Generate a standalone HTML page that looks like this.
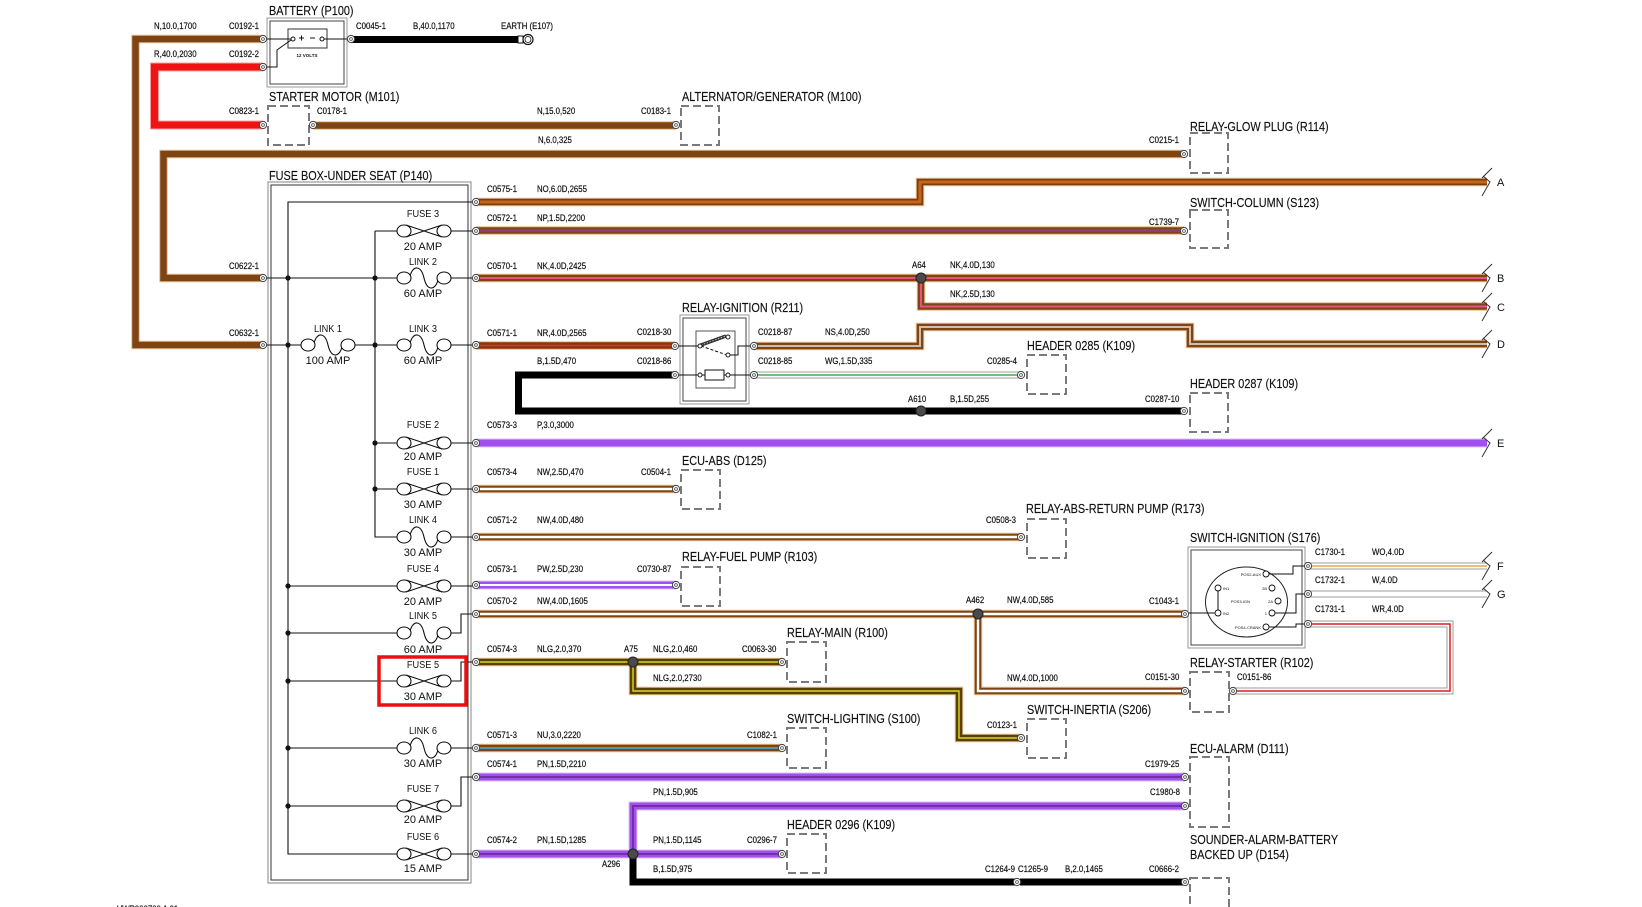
<!DOCTYPE html>
<html><head><meta charset="utf-8"><style>
html,body{margin:0;padding:0;background:#fff;width:1642px;height:907px;overflow:hidden}
svg{display:block}
text{font-family:"Liberation Sans",Arial,sans-serif;fill:#111}
.s{font-size:9px;stroke:#111;stroke-width:.2}
.l{font-size:12.5px;stroke:#111;stroke-width:.15}
.f{font-size:10px}
.a{font-size:11px}
.t{font-size:4px}
.m{text-anchor:middle}
.e{text-anchor:end}
</style></head><body>
<svg width="1642" height="907" viewBox="0 0 1642 907" xmlns="http://www.w3.org/2000/svg">
<defs>
<path id="n10" d="M263,39H135.5V345H263"/>
<path id="r40" d="M263,67H154.5V125H263"/>
<path id="b40" d="M351,39.5H518"/>
<path id="n15" d="M313,125.5H676"/>
<path id="n6" d="M1184,154H163.5V278H263"/>
<path id="no" d="M476,202H920V182H1487"/>
<path id="np" d="M476,230.5H1184"/>
<path id="nk" d="M476,278H1487"/>
<path id="nk2" d="M921,278V306.5H1487"/>
<path id="nr" d="M476,345.5H675"/>
<path id="ns" d="M754,346H920V327H1190V344H1487"/>
<path id="b470" d="M675,375H518.5V411H1184"/>
<path id="wg" d="M754,375H1021"/>
<path id="p" d="M476,443H1487"/>
<path id="nw470" d="M476,489H676"/>
<path id="nw480" d="M476,537H1021"/>
<path id="pw" d="M476,585H676"/>
<path id="nw1605" d="M476,614H1185"/>
<path id="nw1000" d="M978,614V691H1185"/>
<path id="nlg" d="M476,662H782"/>
<path id="nlg2" d="M633,662V691H959V738H1021"/>
<path id="nu" d="M476,748H782"/>
<path id="pn1" d="M476,777H1185"/>
<path id="pn2" d="M633,854V806H1185"/>
<path id="pn3" d="M476,854H782"/>
<path id="b975" d="M633,854V882H1015M1020,882H1185"/>
<path id="wo" d="M1308,566H1487"/>
<path id="ww" d="M1308,594H1487"/>
<path id="wr" d="M1308,624H1450V691H1233"/>
<g id="fz"><path d="M2,-6L38,6M2,6L38,-6" stroke="#111" stroke-width="1.1" fill="none"/><ellipse cx="0" cy="0" rx="7" ry="6" fill="#fff" stroke="#111" stroke-width="1.1"/><ellipse cx="40" cy="0" rx="7" ry="6" fill="#fff" stroke="#111" stroke-width="1.1"/></g>
<g id="lk"><path d="M6,-2C9,-13 17,-13 20,0C23,13 31,13 34,2" stroke="#111" stroke-width="1.1" fill="none"/><ellipse cx="0" cy="0" rx="7" ry="6" fill="#fff" stroke="#111" stroke-width="1.1"/><ellipse cx="40" cy="0" rx="7" ry="6" fill="#fff" stroke="#111" stroke-width="1.1"/></g>
<g id="cn"><circle r="3.6" fill="#fff" stroke="#444" stroke-width="1"/><circle r="1.4" fill="none" stroke="#444" stroke-width=".8"/></g>
<g id="jd"><circle r="5" fill="#4a4a4a" stroke="#222" stroke-width="1"/></g>
</defs>

<!-- WIRES -->
<g fill="none" stroke-linejoin="miter" stroke-linecap="butt">
<g stroke="#e6bd8c" stroke-width="8.5">
<use href="#n10"/><use href="#n6"/><use href="#n15"/><use href="#no"/><use href="#np"/><use href="#nk"/><use href="#nk2"/><use href="#nr"/><use href="#ns"/><use href="#nw470"/><use href="#nw480"/><use href="#nw1605"/><use href="#nw1000"/><use href="#nu"/><use href="#nlg"/><use href="#nlg2"/>
</g>
<g stroke="#7e4414" stroke-width="6.5">
<use href="#n10"/><use href="#n6"/><use href="#n15"/><use href="#np"/><use href="#nk"/><use href="#nk2"/><use href="#ns"/><use href="#nw470"/><use href="#nw480"/><use href="#nw1605"/><use href="#nw1000"/><use href="#nu"/>
</g>
<use href="#no" stroke="#7a3e10" stroke-width="6.5"/>
<use href="#nr" stroke="#8b3410" stroke-width="6.5"/>
<g stroke="#5a3f00" stroke-width="6.5"><use href="#nlg"/><use href="#nlg2"/></g>
<use href="#no" stroke="#c8641a" stroke-width="3"/>
<use href="#np" stroke="#8e3c86" stroke-width="2.5"/>
<g stroke="#e8508a" stroke-width="2"><use href="#nk"/><use href="#nk2"/></g>
<use href="#nr" stroke="#c5401e" stroke-width="1.6"/>
<use href="#ns" stroke="#cbbfb3" stroke-width="2"/>
<g stroke="#ffffff" stroke-width="2.4"><use href="#nw470"/><use href="#nw480"/><use href="#nw1605"/><use href="#nw1000"/></g>
<g stroke="#d4dc30" stroke-width="1.4"><use href="#nlg"/><use href="#nlg2"/></g>
<use href="#nu" stroke="#4a9ab4" stroke-width="2"/>
<!-- purple -->
<g stroke="#dcc0f7" stroke-width="9"><use href="#p"/><use href="#pw"/><use href="#pn1"/><use href="#pn2"/><use href="#pn3"/></g>
<g stroke="#a24ff0" stroke-width="7"><use href="#p"/><use href="#pw"/><use href="#pn1"/><use href="#pn2"/><use href="#pn3"/></g>
<use href="#pw" stroke="#fff" stroke-width="2"/>
<g stroke="#6e2d98" stroke-width="1.8"><use href="#pn1"/><use href="#pn2"/><use href="#pn3"/></g>
<!-- red / black -->
<use href="#r40" stroke="#ff9c9c" stroke-width="9"/>
<use href="#r40" stroke="#ee1414" stroke-width="7"/>
<g stroke="#000" stroke-width="7"><use href="#b40"/><use href="#b470"/><use href="#b975"/></g>
<!-- white -->
<g stroke="#9c9c9c" stroke-width="7"><use href="#wg"/><use href="#wo"/><use href="#ww"/><use href="#wr"/></g>
<g stroke="#fff" stroke-width="5"><use href="#wg"/><use href="#wo"/><use href="#ww"/><use href="#wr"/></g>
<use href="#wg" stroke="#3cb043" stroke-width="1.5"/>
<use href="#wo" stroke="#e4a554" stroke-width="1.6"/>
<use href="#wr" stroke="#d42020" stroke-width="1.5"/>
</g>

<!-- arrow ends -->
<g stroke="#333" stroke-width="1" fill="none">
<path d="M1482,178L1492,168M1483,176L1490,182L1482,196"/>
<path d="M1482,274L1492,264M1483,272L1490,278L1482,292"/>
<path d="M1482,303L1492,293M1483,301L1490,307L1482,321"/>
<path d="M1482,340L1492,330M1483,338L1490,344L1482,358"/>
<path d="M1482,439L1492,429M1483,437L1490,443L1482,457"/>
<path d="M1482,562L1492,552M1483,560L1490,566L1482,580"/>
<path d="M1482,590L1492,580M1483,588L1490,594L1482,608"/>
</g>
<g class="a">
<text x="1497" y="186">A</text><text x="1497" y="282">B</text><text x="1497" y="311">C</text><text x="1497" y="348">D</text><text x="1497" y="447">E</text><text x="1497" y="570">F</text><text x="1497" y="598">G</text>
</g>

<!-- BATTERY -->
<rect x="267" y="18" width="80" height="69" fill="none" stroke="#999" stroke-width="1"/>
<rect x="270" y="21" width="74" height="63" fill="none" stroke="#444" stroke-width="1"/>
<rect x="288" y="29" width="39" height="19" fill="#fff" stroke="#333" stroke-width="1"/>
<g stroke="#111" stroke-width="1" fill="none">
<path d="M263,39H291"/><path d="M263,67H277V50L291,40"/><path d="M324,39H351"/>
<path d="M299,38h5M301.5,35.5v5M310,38h5"/>
</g>
<circle cx="293" cy="39" r="2" fill="#fff" stroke="#111"/>
<circle cx="322" cy="39" r="2" fill="#fff" stroke="#111"/>
<text x="307" y="57" style="font-size:4.5px;font-weight:bold" class="m">12 VOLTS</text>
<!-- earth -->
<rect x="518" y="36" width="5" height="7" fill="#fff" stroke="#111"/>
<circle cx="528" cy="39.5" r="5" fill="#fff" stroke="#111" stroke-width="1.2"/>
<circle cx="528" cy="39.5" r="3" fill="none" stroke="#111" stroke-width=".8"/>

<!-- FUSE BOX -->
<rect x="268" y="182" width="203" height="701" fill="none" stroke="#999" stroke-width="1.2"/>
<rect x="271" y="185" width="197" height="695" fill="none" stroke="#333" stroke-width="1"/>
<g stroke="#111" stroke-width="1.1" fill="none">
<path d="M476,202H288V854H397"/>
<path d="M375,231V537H397"/>
<path d="M263,278H397"/><path d="M263,345H301"/><path d="M354,345H397"/>
<path d="M375,231H397"/><path d="M375,443H397"/><path d="M375,489H397"/>
<path d="M288,586H397"/><path d="M288,633H397"/><path d="M288,681H397"/><path d="M288,748H397"/><path d="M288,806H397"/>
<path d="M451,231H476M451,278H476M451,345H476M451,443H476M451,489H476M451,537H476M451,586H476M451,748H476M451,854H476"/>
<path d="M451,633H461V614H476M451,681H461V662H476M451,806H461V777H476"/>
</g>
<g fill="#111">
<circle cx="288" cy="278" r="2.6"/><circle cx="288" cy="345" r="2.6"/><circle cx="375" cy="278" r="2.6"/><circle cx="375" cy="345" r="2.6"/>
<circle cx="375" cy="443" r="2.6"/><circle cx="375" cy="489" r="2.6"/>
<circle cx="288" cy="586" r="2.6"/><circle cx="288" cy="633" r="2.6"/><circle cx="288" cy="681" r="2.6"/><circle cx="288" cy="748" r="2.6"/><circle cx="288" cy="806" r="2.6"/>
</g>
<use href="#fz" x="404" y="231"/>
<use href="#lk" x="404" y="278"/>
<use href="#lk" x="308" y="345"/>
<use href="#lk" x="404" y="345"/>
<use href="#fz" x="404" y="443"/>
<use href="#fz" x="404" y="489"/>
<use href="#lk" x="404" y="537"/>
<use href="#fz" x="404" y="586"/>
<use href="#lk" x="404" y="633"/>
<use href="#fz" x="404" y="681"/>
<use href="#lk" x="404" y="748"/>
<use href="#fz" x="404" y="806"/>
<use href="#fz" x="404" y="854"/>
<rect x="379" y="657" width="87" height="48" fill="none" stroke="#e81010" stroke-width="3.5"/>

<g class="m">
<text class="f" transform="translate(423 217) scale(.92 1)">FUSE 3</text><text class="a" x="423" y="250">20 AMP</text>
<text class="f" transform="translate(423 265) scale(.92 1)">LINK 2</text><text class="a" x="423" y="297">60 AMP</text>
<text class="f" transform="translate(328 332) scale(.92 1)">LINK 1</text><text class="a" x="328" y="364">100 AMP</text>
<text class="f" transform="translate(423 332) scale(.92 1)">LINK 3</text><text class="a" x="423" y="364">60 AMP</text>
<text class="f" transform="translate(423 428) scale(.92 1)">FUSE 2</text><text class="a" x="423" y="460">20 AMP</text>
<text class="f" transform="translate(423 475) scale(.92 1)">FUSE 1</text><text class="a" x="423" y="508">30 AMP</text>
<text class="f" transform="translate(423 523) scale(.92 1)">LINK 4</text><text class="a" x="423" y="556">30 AMP</text>
<text class="f" transform="translate(423 572) scale(.92 1)">FUSE 4</text><text class="a" x="423" y="605">20 AMP</text>
<text class="f" transform="translate(423 619) scale(.92 1)">LINK 5</text><text class="a" x="423" y="653">60 AMP</text>
<text class="f" transform="translate(423 668) scale(.92 1)">FUSE 5</text><text class="a" x="423" y="700">30 AMP</text>
<text class="f" transform="translate(423 734) scale(.92 1)">LINK 6</text><text class="a" x="423" y="767">30 AMP</text>
<text class="f" transform="translate(423 792) scale(.92 1)">FUSE 7</text><text class="a" x="423" y="823">20 AMP</text>
<text class="f" transform="translate(423 840) scale(.92 1)">FUSE 6</text><text class="a" x="423" y="872">15 AMP</text>
</g>

<!-- RELAY IGNITION -->
<rect x="680" y="315" width="69" height="89" fill="#fff" stroke="#999" stroke-width="1"/>
<rect x="683" y="318" width="63" height="83" fill="none" stroke="#444" stroke-width="1"/>
<rect x="696" y="331" width="39" height="57" fill="#fff" stroke="#555" stroke-width="1"/>
<g stroke="#111" stroke-width="1" fill="none">
<path d="M675,346H698M675,375H698M702,375H705M724,375H726M730,375H754M730,355H738V346H754"/>
<path d="M701,346L727,355" stroke-dasharray="3 2"/>
</g>
<path d="M701,345L726,336" stroke="#333" stroke-width="3.5"/>
<path d="M701,345L726,336" stroke="#bbb" stroke-width="1" stroke-dasharray="1.5 1.5"/>
<rect x="705" y="370" width="19" height="10" fill="#fff" stroke="#111"/>
<g fill="#fff" stroke="#111" stroke-width=".9">
<circle cx="700" cy="346" r="2"/><circle cx="728" cy="337" r="2"/><circle cx="728" cy="355" r="2"/><circle cx="700" cy="375" r="2"/><circle cx="728" cy="375" r="2"/>
</g>

<!-- SWITCH IGNITION -->
<rect x="1188" y="547" width="117" height="101" fill="#fff" stroke="#999" stroke-width="1"/>
<rect x="1191" y="550" width="111" height="95" fill="none" stroke="#444" stroke-width="1"/>
<ellipse cx="1246.5" cy="602" rx="41" ry="35" fill="none" stroke="#222" stroke-width="1"/>
<g stroke="#111" stroke-width="1" fill="none">
<path d="M1185,613H1216M1218,589V611"/>
<path d="M1269,574H1293V566H1308"/>
<path d="M1275,613H1296V594H1308"/>
<path d="M1269,627H1296V624H1308"/>
</g>
<g fill="#fff" stroke="#111" stroke-width=".9">
<circle cx="1266" cy="574" r="3"/><circle cx="1272" cy="588" r="3"/><circle cx="1278" cy="601" r="3"/><circle cx="1272" cy="613" r="3"/><circle cx="1266" cy="627" r="3"/>
<circle cx="1218" cy="588" r="3"/><circle cx="1218" cy="613" r="3"/>
</g>
<g class="t">
<text x="1261" y="576" class="e">POS2-AUX</text><text x="1267" y="590" class="e">2B</text><text x="1273" y="603" class="e">2A</text><text x="1250" y="603" class="e">POS3-IGN</text>
<text x="1267" y="615" class="e">1</text><text x="1261" y="629" class="e">POS4-CRANK</text><text x="1223" y="590">IN1</text><text x="1223" y="615">IN2</text>
</g>

<!-- DASHED COMPONENT BOXES -->
<g fill="none" stroke="#7a7a7a" stroke-width="2" stroke-dasharray="8 4">
<rect x="268" y="106" width="41" height="39"/>
<rect x="681" y="106" width="38" height="39"/>
<rect x="1190" y="133" width="38" height="40"/>
<rect x="1190" y="210" width="38" height="38"/>
<rect x="1027" y="355" width="39" height="39"/>
<rect x="1190" y="393" width="38" height="39"/>
<rect x="681" y="470" width="39" height="39"/>
<rect x="1027" y="519" width="39" height="39"/>
<rect x="681" y="567" width="39" height="39"/>
<rect x="787" y="642" width="39" height="40"/>
<rect x="1190" y="672" width="39" height="40"/>
<rect x="1027" y="719" width="39" height="39"/>
<rect x="787" y="728" width="39" height="40"/>
<rect x="1190" y="757" width="39" height="70"/>
<rect x="787" y="834" width="39" height="39"/>
<rect x="1190" y="878" width="39" height="40"/>
</g>

<!-- CONNECTORS -->
<g>
<use href="#cn" x="263" y="39"/><use href="#cn" x="263" y="67"/><use href="#cn" x="351" y="39"/><use href="#cn" x="263" y="125"/><use href="#cn" x="313" y="125"/><use href="#cn" x="676" y="125"/><use href="#cn" x="1184" y="154"/><use href="#cn" x="263" y="278"/><use href="#cn" x="263" y="345"/>
<use href="#cn" x="476" y="202"/><use href="#cn" x="476" y="231"/><use href="#cn" x="476" y="278"/><use href="#cn" x="476" y="345"/><use href="#cn" x="476" y="443"/><use href="#cn" x="476" y="489"/><use href="#cn" x="476" y="537"/><use href="#cn" x="476" y="585"/><use href="#cn" x="476" y="614"/><use href="#cn" x="476" y="662"/><use href="#cn" x="476" y="748"/><use href="#cn" x="476" y="777"/><use href="#cn" x="476" y="854"/>
<use href="#cn" x="675" y="346"/><use href="#cn" x="675" y="375"/><use href="#cn" x="754" y="346"/><use href="#cn" x="754" y="375"/><use href="#cn" x="1021" y="375"/><use href="#cn" x="1184" y="411"/><use href="#cn" x="1184" y="231"/>
<use href="#cn" x="676" y="489"/><use href="#cn" x="1021" y="537"/><use href="#cn" x="676" y="585"/><use href="#cn" x="1185" y="614"/><use href="#cn" x="1185" y="691"/><use href="#cn" x="1233" y="691"/><use href="#cn" x="782" y="662"/><use href="#cn" x="1021" y="738"/><use href="#cn" x="782" y="748"/><use href="#cn" x="1185" y="777"/><use href="#cn" x="1185" y="806"/><use href="#cn" x="782" y="854"/><use href="#cn" x="1017" y="882"/><use href="#cn" x="1185" y="882"/>
<use href="#cn" x="1308" y="566"/><use href="#cn" x="1308" y="594"/><use href="#cn" x="1308" y="624"/>
</g>
<!-- JUNCTIONS -->
<use href="#jd" x="921" y="278"/><use href="#jd" x="921" y="411"/><use href="#jd" x="978" y="614"/><use href="#jd" x="633" y="662"/><use href="#jd" x="633" y="854"/>

<!-- COMPONENT LABELS -->
<g class="l">
<text transform="translate(269 15) scale(.87 1)">BATTERY (P100)</text>
<text transform="translate(269 101) scale(.87 1)">STARTER MOTOR (M101)</text>
<text transform="translate(682 101) scale(.87 1)">ALTERNATOR/GENERATOR (M100)</text>
<text transform="translate(1190 131) scale(.87 1)">RELAY-GLOW PLUG (R114)</text>
<text transform="translate(269 180) scale(.87 1)">FUSE BOX-UNDER SEAT (P140)</text>
<text transform="translate(1190 207) scale(.87 1)">SWITCH-COLUMN (S123)</text>
<text transform="translate(682 312) scale(.87 1)">RELAY-IGNITION (R211)</text>
<text transform="translate(1027 350) scale(.87 1)">HEADER 0285 (K109)</text>
<text transform="translate(1190 388) scale(.87 1)">HEADER 0287 (K109)</text>
<text transform="translate(682 465) scale(.87 1)">ECU-ABS (D125)</text>
<text transform="translate(1026 513) scale(.87 1)">RELAY-ABS-RETURN PUMP (R173)</text>
<text transform="translate(682 561) scale(.87 1)">RELAY-FUEL PUMP (R103)</text>
<text transform="translate(1190 542) scale(.87 1)">SWITCH-IGNITION (S176)</text>
<text transform="translate(787 637) scale(.87 1)">RELAY-MAIN (R100)</text>
<text transform="translate(1190 667) scale(.87 1)">RELAY-STARTER (R102)</text>
<text transform="translate(1027 714) scale(.87 1)">SWITCH-INERTIA (S206)</text>
<text transform="translate(787 723) scale(.87 1)">SWITCH-LIGHTING (S100)</text>
<text transform="translate(1190 753) scale(.87 1)">ECU-ALARM (D111)</text>
<text transform="translate(787 829) scale(.87 1)">HEADER 0296 (K109)</text>
<text transform="translate(1190 844) scale(.87 1)">SOUNDER-ALARM-BATTERY</text>
<text transform="translate(1190 859) scale(.87 1)">BACKED UP (D154)</text>
</g>

<!-- WIRE / CONNECTOR LABELS -->
<g class="s">
<text transform="translate(154 29) scale(.87 1)">N,10.0,1700</text>
<text transform="translate(229 29) scale(.87 1)">C0192-1</text>
<text transform="translate(154 57) scale(.87 1)">R,40.0,2030</text>
<text transform="translate(229 57) scale(.87 1)">C0192-2</text>
<text transform="translate(356 29) scale(.87 1)">C0045-1</text>
<text transform="translate(413 29) scale(.87 1)">B,40.0,1170</text>
<text transform="translate(501 29) scale(.87 1)">EARTH (E107)</text>
<text transform="translate(229 114) scale(.87 1)">C0823-1</text>
<text transform="translate(317 114) scale(.87 1)">C0178-1</text>
<text transform="translate(537 114) scale(.87 1)">N,15.0,520</text>
<text transform="translate(641 114) scale(.87 1)">C0183-1</text>
<text transform="translate(538 143) scale(.87 1)">N,6.0,325</text>
<text transform="translate(1149 143) scale(.87 1)">C0215-1</text>
<text transform="translate(487 192) scale(.87 1)">C0575-1</text>
<text transform="translate(537 192) scale(.87 1)">NO,6.0D,2655</text>
<text transform="translate(487 221) scale(.87 1)">C0572-1</text>
<text transform="translate(537 221) scale(.87 1)">NP,1.5D,2200</text>
<text transform="translate(1149 225) scale(.87 1)">C1739-7</text>
<text transform="translate(229 269) scale(.87 1)">C0622-1</text>
<text transform="translate(487 269) scale(.87 1)">C0570-1</text>
<text transform="translate(537 269) scale(.87 1)">NK,4.0D,2425</text>
<text transform="translate(912 268) scale(.87 1)">A64</text>
<text transform="translate(950 268) scale(.87 1)">NK,4.0D,130</text>
<text transform="translate(950 297) scale(.87 1)">NK,2.5D,130</text>
<text transform="translate(229 336) scale(.87 1)">C0632-1</text>
<text transform="translate(487 336) scale(.87 1)">C0571-1</text>
<text transform="translate(537 336) scale(.87 1)">NR,4.0D,2565</text>
<text transform="translate(637 335) scale(.87 1)">C0218-30</text>
<text transform="translate(758 335) scale(.87 1)">C0218-87</text>
<text transform="translate(825 335) scale(.87 1)">NS,4.0D,250</text>
<text transform="translate(537 364) scale(.87 1)">B,1.5D,470</text>
<text transform="translate(637 364) scale(.87 1)">C0218-86</text>
<text transform="translate(758 364) scale(.87 1)">C0218-85</text>
<text transform="translate(825 364) scale(.87 1)">WG,1.5D,335</text>
<text transform="translate(987 364) scale(.87 1)">C0285-4</text>
<text transform="translate(908 402) scale(.87 1)">A610</text>
<text transform="translate(950 402) scale(.87 1)">B,1.5D,255</text>
<text transform="translate(1145 402) scale(.87 1)">C0287-10</text>
<text transform="translate(487 428) scale(.87 1)">C0573-3</text>
<text transform="translate(537 428) scale(.87 1)">P,3.0,3000</text>
<text transform="translate(487 475) scale(.87 1)">C0573-4</text>
<text transform="translate(537 475) scale(.87 1)">NW,2.5D,470</text>
<text transform="translate(641 475) scale(.87 1)">C0504-1</text>
<text transform="translate(487 523) scale(.87 1)">C0571-2</text>
<text transform="translate(537 523) scale(.87 1)">NW,4.0D,480</text>
<text transform="translate(986 523) scale(.87 1)">C0508-3</text>
<text transform="translate(487 572) scale(.87 1)">C0573-1</text>
<text transform="translate(537 572) scale(.87 1)">PW,2.5D,230</text>
<text transform="translate(637 572) scale(.87 1)">C0730-87</text>
<text transform="translate(487 604) scale(.87 1)">C0570-2</text>
<text transform="translate(537 604) scale(.87 1)">NW,4.0D,1605</text>
<text transform="translate(966 603) scale(.87 1)">A462</text>
<text transform="translate(1007 603) scale(.87 1)">NW,4.0D,585</text>
<text transform="translate(1149 604) scale(.87 1)">C1043-1</text>
<text transform="translate(487 652) scale(.87 1)">C0574-3</text>
<text transform="translate(537 652) scale(.87 1)">NLG,2.0,370</text>
<text transform="translate(624 652) scale(.87 1)">A75</text>
<text transform="translate(653 652) scale(.87 1)">NLG,2.0,460</text>
<text transform="translate(742 652) scale(.87 1)">C0063-30</text>
<text transform="translate(653 681) scale(.87 1)">NLG,2.0,2730</text>
<text transform="translate(1007 681) scale(.87 1)">NW,4.0D,1000</text>
<text transform="translate(1145 680) scale(.87 1)">C0151-30</text>
<text transform="translate(1237 680) scale(.87 1)">C0151-86</text>
<text transform="translate(987 728) scale(.87 1)">C0123-1</text>
<text transform="translate(487 738) scale(.87 1)">C0571-3</text>
<text transform="translate(537 738) scale(.87 1)">NU,3.0,2220</text>
<text transform="translate(747 738) scale(.87 1)">C1082-1</text>
<text transform="translate(487 767) scale(.87 1)">C0574-1</text>
<text transform="translate(537 767) scale(.87 1)">PN,1.5D,2210</text>
<text transform="translate(1145 767) scale(.87 1)">C1979-25</text>
<text transform="translate(653 795) scale(.87 1)">PN,1.5D,905</text>
<text transform="translate(1150 795) scale(.87 1)">C1980-8</text>
<text transform="translate(487 843) scale(.87 1)">C0574-2</text>
<text transform="translate(537 843) scale(.87 1)">PN,1.5D,1285</text>
<text transform="translate(653 843) scale(.87 1)">PN,1.5D,1145</text>
<text transform="translate(747 843) scale(.87 1)">C0296-7</text>
<text transform="translate(602 867) scale(.87 1)">A296</text>
<text transform="translate(653 872) scale(.87 1)">B,1.5D,975</text>
<text transform="translate(985 872) scale(.87 1)">C1264-9</text>
<text transform="translate(1018 872) scale(.87 1)">C1265-9</text>
<text transform="translate(1065 872) scale(.87 1)">B,2.0,1465</text>
<text transform="translate(1149 872) scale(.87 1)">C0666-2</text>
<text transform="translate(1315 555) scale(.87 1)">C1730-1</text>
<text transform="translate(1372 555) scale(.87 1)">WO,4.0D</text>
<text transform="translate(1315 583) scale(.87 1)">C1732-1</text>
<text transform="translate(1372 583) scale(.87 1)">W,4.0D</text>
<text transform="translate(1315 612) scale(.87 1)">C1731-1</text>
<text transform="translate(1372 612) scale(.87 1)">WR,4.0D</text>
<text transform="translate(117 912) scale(.87 1)">VWP000700 A 01</text>
</g>
</svg>
</body></html>
